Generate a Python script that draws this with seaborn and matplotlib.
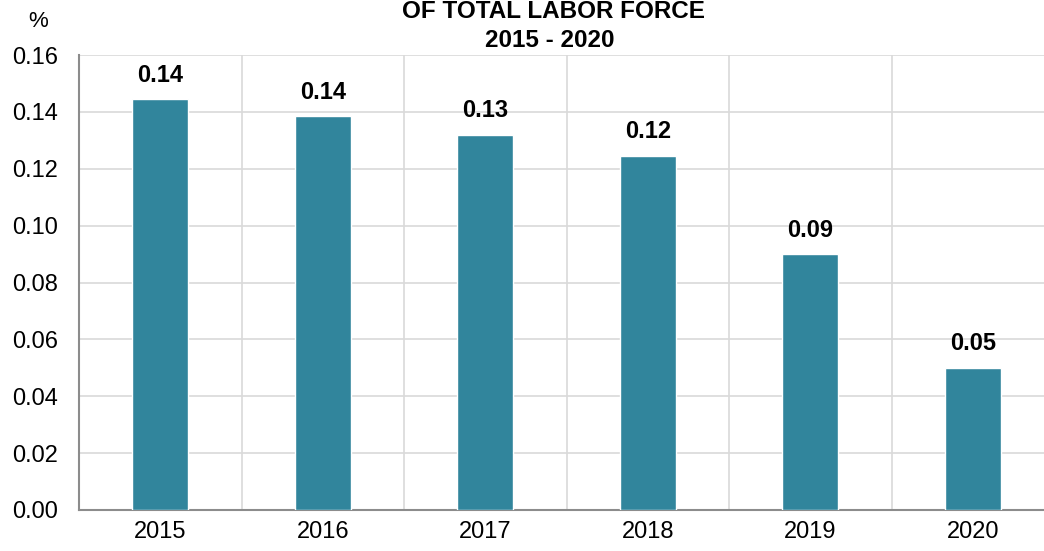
import matplotlib
import seaborn as sns
import numpy as np
import matplotlib.pyplot as plt
from matplotlib.ticker import FixedLocator

years = ['2015', '2016', '2017', '2018', '2019', '2020']
values = [0.1445, 0.1384, 0.1319, 0.1245, 0.0900, 0.0500]
yticks = [0.00, 0.02, 0.04, 0.06, 0.08, 0.10, 0.12, 0.14, 0.16]
title_lines = ['OF TOTAL LABOR FORCE', '2015 - 2020']

bar_color = '#31859c'
grid_color = '#d9d9d9'

sns.set_style('white')
plt.rcParams['font.family'] = ['Liberation Sans', 'DejaVu Sans']
plt.rcParams['text.color'] = 'black'

fig = plt.figure(figsize=(10.44, 5.51), dpi=100)
ax = fig.add_axes([79 / 1044, 1 - 510 / 551, 975 / 1044, 455 / 551])

sns.barplot(x=years, y=values, color=bar_color, width=0.345,
            saturation=1, ax=ax, zorder=3)

ax.set_ylim(0, 0.16)
ax.set_xlim(-0.5, len(years) - 0.5)
ax.set_yticks(yticks)
ax.set_yticklabels([f'{t:.2f}' for t in yticks])
ax.xaxis.set_minor_locator(FixedLocator(np.arange(-0.5, len(years), 1.0)))
ax.grid(axis='y', which='major', color=grid_color, linewidth=1.2, zorder=0)
ax.grid(axis='x', which='minor', color=grid_color, linewidth=1.2, zorder=0)
ax.set_axisbelow(True)
ax.tick_params(axis='both', which='both', length=0, labelsize=17,
               colors='black', labelcolor='black')
ax.tick_params(axis='x', pad=8)
ax.tick_params(axis='y', pad=15)

for side in ['top', 'right']:
    ax.spines[side].set_visible(False)
for side in ['left', 'bottom']:
    ax.spines[side].set_color('#8c8c8c')
    ax.spines[side].set_linewidth(1.5)

for i, v in enumerate(values):
    ax.annotate(f'{v:.2f}', xy=(i, v), xytext=(0, 9), textcoords='offset points',
                ha='center', va='bottom', fontsize=17, fontweight='bold',
                color='black')

fig.text(38 / 1044, 1 - 27 / 551, '%', ha='center', va='baseline', fontsize=16,
         color='black')
fig.text(553 / 1044, 1 - 18 / 551, title_lines[0], ha='center', va='baseline',
         fontsize=17.5, fontweight='bold', color='black')
fig.text(550 / 1044, 1 - 47 / 551, title_lines[1], ha='center', va='baseline',
         fontsize=17.5, fontweight='bold', color='black')

plt.savefig('out.png', dpi=100)
